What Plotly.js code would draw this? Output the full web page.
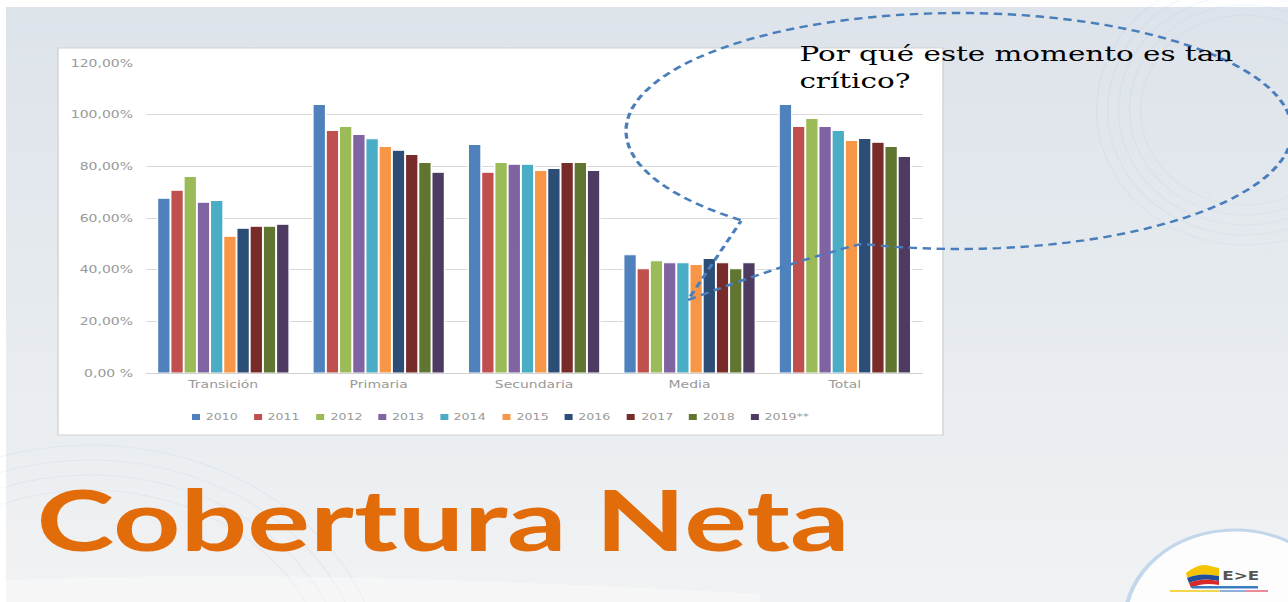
<!DOCTYPE html>
<html><head><meta charset="utf-8">
<script src="https://cdn.plot.ly/plotly-3.0.1.min.js"></script>
<style>
html,body{margin:0;padding:0;width:1288px;height:602px;overflow:hidden;}
body{background:linear-gradient(180deg,#dde3ea 0%,#e4e9ee 40%,#ebeef1 75%,#f1f2f3 100%);}
#frame{position:absolute;left:0;top:0;width:1288px;height:602px;border-top:7px solid #fff;border-left:6px solid #fff;box-sizing:border-box;}
#chart{position:absolute;left:0;top:0;width:920px;height:602px;transform:scaleX(1.4);transform-origin:0 0;}
</style></head><body>
<div id="frame"></div>
<div id="chart"></div>
<script>
// ---- data ----
const categories = ['Transición', 'Primaria', 'Secundaria', 'Media', 'Total'];
const years = ['2010', '2011', '2012', '2013', '2014', '2015', '2016', '2017', '2018', '2019**'];
const colors = ['#4F81BD', '#C0504D', '#9BBB59', '#8064A2', '#4BACC6', '#F79646', '#2C4D75', '#772C2A', '#5F7530', '#4D3B62'];
const cob2010 = [67.6, 103.9, 88.5, 45.8, 103.9];
const cob2011 = [70.7, 93.9, 77.7, 40.4, 95.4];
const cob2012 = [76.1, 95.4, 81.5, 43.5, 98.5];
const cob2013 = [66.1, 92.3, 80.8, 42.7, 95.4];
const cob2014 = [66.8, 90.7, 80.8, 42.7, 93.9];
const cob2015 = [52.9, 87.7, 78.4, 42.0, 90.0];
const cob2016 = [56.0, 86.2, 79.2, 44.3, 90.8];
const cob2017 = [56.8, 84.6, 81.5, 42.7, 89.3];
const cob2018 = [56.8, 81.5, 81.5, 40.4, 87.7];
const cob2019 = [57.6, 77.7, 78.4, 42.7, 83.8];
const yTicks = [0, 20, 40, 60, 80, 100, 120];
const yTickText = ['0,00 %', '20,00%', '40,00%', '60,00%', '80,00%', '100,00%', '120,00%'];
const series = [cob2010, cob2011, cob2012, cob2013, cob2014, cob2015, cob2016, cob2017, cob2018, cob2019];

// ---- geometry helpers (screen px -> paper coords) ----
const S = 1.4, W = 920, H = 602, ML = 104, MR = 261, MT = 63, MB = 229;
const PW = W - ML - MR, PH = H - MT - MB;
const fx = X => (X / S - ML) / PW;
const fy = Y => (H - MB - Y) / PH;

const traces = series.map((vals, i) => ({
  type: 'bar', x: categories, y: vals, name: years[i],
  marker: {color: colors[i], line: {color: '#ffffff', width: 1}},
  showlegend: false
}));

const shapes = [];
const annotations = [];

// faint background arcs
[200, 215, 230, 245].forEach(r => shapes.push({type: 'circle', xref: 'paper', yref: 'paper', layer: 'below',
  x0: fx(90 - r * 1.2), x1: fx(90 + r * 1.2), y0: fy(690 + r), y1: fy(690 - r),
  line: {color: 'rgba(175,195,222,0.18)', width: 1}}));
[95, 105, 115, 125, 135].forEach(r => shapes.push({type: 'circle', xref: 'paper', yref: 'paper', layer: 'below',
  x0: fx(1245 - r * 1.1), x1: fx(1245 + r * 1.1), y0: fy(110 + r), y1: fy(110 - r),
  line: {color: 'rgba(175,198,225,0.18)', width: 1}}));
// bottom white swoosh
shapes.push({type: 'path', xref: 'paper', yref: 'paper', layer: 'below',
  path: `M${fx(6)},${fy(602)} L${fx(6)},${fy(580)} Q${fx(300)},${fy(568)} ${fx(760)},${fy(594)} L${fx(760)},${fy(602)} Z`,
  fillcolor: 'rgba(255,255,255,0.35)', line: {width: 0}});

// white chart box
shapes.push({type: 'rect', xref: 'paper', yref: 'paper', layer: 'below',
  x0: fx(58), x1: fx(943), y0: fy(435), y1: fy(48),
  fillcolor: '#ffffff', line: {color: '#d2d2d2', width: 1}});

// manual legend
years.forEach((yr, i) => {
  const X = 192 + i * 62.1;
  shapes.push({type: 'rect', xref: 'paper', yref: 'paper', layer: 'above',
    x0: fx(X), x1: fx(X + 8), y0: fy(420), y1: fy(414),
    fillcolor: colors[i], line: {width: 0}});
  annotations.push({xref: 'paper', yref: 'paper', x: fx(X + 11), y: fy(417), xanchor: 'left', yanchor: 'middle',
    text: yr, showarrow: false, font: {family: 'DejaVu Sans', size: 9, color: '#999999'}});
});

// callout dashed ellipse with tail
(function () {
  const cx = 959, cy = 131, rx = 333, ry = 118;
  const pts = [];
  for (let a = 131; a <= 469; a += 3) {
    const t = a * Math.PI / 180;
    pts.push([cx + rx * Math.cos(t), cy + ry * Math.sin(t)]);
  }
  let p = 'M' + pts.map(q => fx(q[0]) + ',' + fy(q[1])).join(' L');
  p += ` Q${fx(790)},${fy(262)} ${fx(688)},${fy(300)}`;
  p += ` L${fx(741)},${fy(221)}`;
  shapes.push({type: 'path', xref: 'paper', yref: 'paper', layer: 'above', path: p,
    line: {color: '#4A7EBB', width: 2.4, dash: '6px,4px'}});
})();

annotations.push({xref: 'paper', yref: 'paper', x: fx(797), y: fy(40), xanchor: 'left', yanchor: 'top', align: 'left',
  text: 'Por qué este momento es tan<br>crítico?', showarrow: false,
  font: {family: 'DejaVu Serif', size: 21, color: '#000000'}});

annotations.push({xref: 'paper', yref: 'paper', x: fx(34), y: fy(518), xanchor: 'left', yanchor: 'middle',
  text: 'Cobertura Neta', showarrow: false,
  font: {family: 'Lato', size: 84, color: '#E36C0A', weight: 700}});

// logo
shapes.push({type: 'circle', xref: 'paper', yref: 'paper', layer: 'below',
  x0: fx(1125), x1: fx(1345), y0: fy(714), y1: fy(530),
  fillcolor: 'rgba(255,255,255,0.85)', line: {color: '#c3d7ec', width: 3}});
shapes.push({type: 'path', xref: 'paper', yref: 'paper', layer: 'above',
  path: `M${fx(1186)},${fy(573)} Q${fx(1200)},${fy(562)} ${fx(1210)},${fy(566)} L${fx(1219)},${fy(568)} L${fx(1219)},${fy(576)} Q${fx(1200)},${fy(572)} ${fx(1187)},${fy(578)} Z`,
  fillcolor: '#F5C400', line: {width: 0}});
shapes.push({type: 'path', xref: 'paper', yref: 'paper', layer: 'above',
  path: `M${fx(1187)},${fy(578)} Q${fx(1200)},${fy(572)} ${fx(1219)},${fy(576)} L${fx(1219)},${fy(581)} Q${fx(1202)},${fy(577)} ${fx(1189)},${fy(583)} Z`,
  fillcolor: '#1F4E9A', line: {width: 0}});
shapes.push({type: 'path', xref: 'paper', yref: 'paper', layer: 'above',
  path: `M${fx(1189)},${fy(583)} Q${fx(1202)},${fy(577)} ${fx(1219)},${fy(581)} L${fx(1219)},${fy(585)} Q${fx(1203)},${fy(582)} ${fx(1191)},${fy(588)} Z`,
  fillcolor: '#D72A2A', line: {width: 0}});
shapes.push({type: 'rect', xref: 'paper', yref: 'paper', layer: 'above',
  x0: fx(1192), x1: fx(1258), y0: fy(588.5), y1: fy(586), fillcolor: '#3a7cc0', line: {width: 0}});
[['#F2D64B', 1170, 1220], ['#8fb0dc', 1220, 1245], ['#e88a9a', 1245, 1268]].forEach(s => shapes.push({
  type: 'rect', xref: 'paper', yref: 'paper', layer: 'above',
  x0: fx(s[1]), x1: fx(s[2]), y0: fy(592), y1: fy(590), fillcolor: s[0], line: {width: 0}}));
annotations.push({xref: 'paper', yref: 'paper', x: fx(1241), y: fy(576), xanchor: 'center', yanchor: 'middle',
  text: 'E>E', showarrow: false, font: {family: 'DejaVu Sans', size: 12, color: '#555555', weight: 700}});

const layout = {
  width: W, height: H,
  margin: {l: ML, r: MR, t: MT, b: MB, pad: 0},
  paper_bgcolor: 'rgba(0,0,0,0)', plot_bgcolor: 'rgba(0,0,0,0)',
  barmode: 'group', bargap: 0.15, bargroupgap: 0.04,
  showlegend: false,
  xaxis: {showgrid: false, showline: false, ticks: '', ticklabelstandoff: 4,
    tickfont: {family: 'DejaVu Sans', size: 10, color: '#999999'}},
  yaxis: {range: [0, 120], tickmode: 'array', tickvals: yTicks, ticktext: yTickText,
    gridcolor: '#d9d9d9', gridwidth: 1, zeroline: true, zerolinecolor: '#d0d0d0', zerolinewidth: 1,
    showline: false, ticks: '', ticklabelstandoff: 8,
    tickfont: {family: 'DejaVu Sans', size: 10, color: '#999999'}},
  shapes: shapes, annotations: annotations
};

Plotly.newPlot('chart', traces, layout, {staticPlot: true, displayModeBar: false});
</script>
</body></html>
